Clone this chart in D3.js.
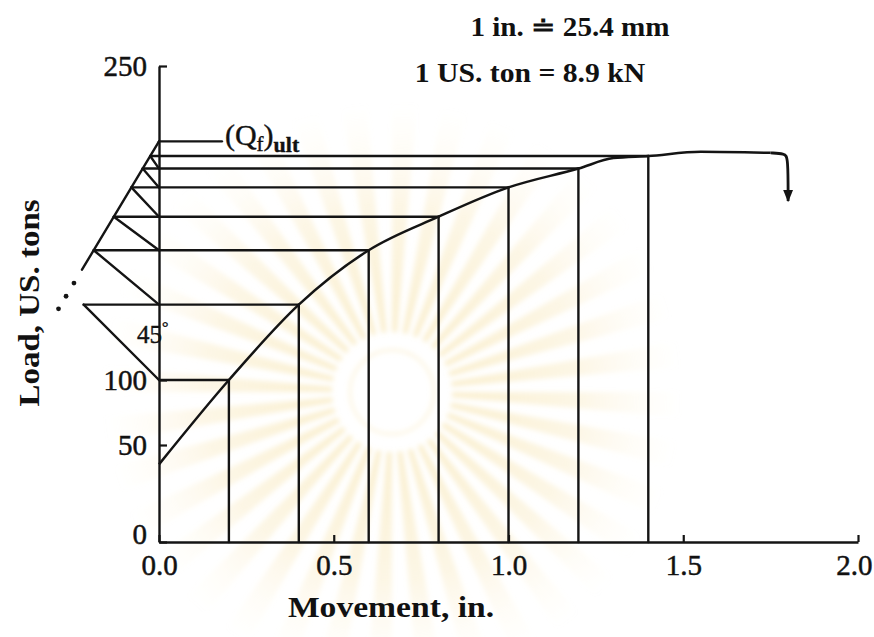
<!DOCTYPE html>
<html>
<head>
<meta charset="utf-8">
<script src="https://cdn.jsdelivr.net/npm/d3@7"></script>
<style>
  html, body { margin: 0; padding: 0; background: #fff; }
  svg { display: block; }
  text { font-family: "Liberation Serif", "Times New Roman", serif; fill: #111; }
</style>
</head>
<body>
<svg id="chart" width="874" height="637"></svg>
<script>
// Pile load test: load vs. movement, with the Mazurkiewicz construction
// used to extrapolate the ultimate load (Qf)ult.

// Load–movement curve (movement in in., load in US tons)
const movement = [0, 0.2, 0.4, 0.6, 0.8, 1.0, 1.2, 1.3, 1.4, 1.55, 1.75];
const load     = [40, 100, 136, 162, 178, 192, 201, 206, 207, 209, 208.5];

// Plunging tail at the end of the test
const tailMovement = [1.75, 1.79, 1.8, 1.8];
const tailLoad     = [208.5, 208.1, 206.5, 185.5];

// Equal movement increment used for the construction
const stepSize = 0.2;
const lastStep = 1.4;

// Extrapolated ultimate load and the straight line through the intersections
const qfUlt = 214;
const ultLineMovement = [0, -0.2203];
const ultLineLoad     = [214, 152.7];
const ultDotsLoad     = [146.3, 140, 134];

// Axis ticks
const xTicks = [0, 0.5, 1.0, 1.5, 2.0];
const xTickLabels = ["0.0", "0.5", "1.0", "1.5", "2.0"];
const yTicks = [0, 50, 100, 250];

const notes = ["1 in. \u2250 25.4 mm", "1 US. ton = 8.9 kN"];

// ---------------------------------------------------------------
const svg = d3.select("#chart");
const serif = "'Liberation Serif', 'Times New Roman', serif";
const plotLeft = 159, plotRight = 858, plotBottom = 542;

const x = d3.scaleLinear().domain([0, 2]).range([plotLeft, plotRight]);
// the printed load axis is not evenly spaced; keep its tick positions
const y = d3.scaleLinear().domain([0, 50, 100, 250]).range([plotBottom, 445, 380, 66]);

const ink = "#141414";
const lw = 2.4;

// faint sunburst emblem in the background
const defs = svg.append("defs");
const grad = defs.append("radialGradient")
  .attr("id", "sun").attr("gradientUnits", "userSpaceOnUse")
  .attr("cx", 0).attr("cy", 0).attr("r", 290);
grad.append("stop").attr("offset", "0.2").attr("stop-color", "#f4d98c").attr("stop-opacity", 0.42);
grad.append("stop").attr("offset", "0.65").attr("stop-color", "#f6e1a4").attr("stop-opacity", 0.28);
grad.append("stop").attr("offset", "1").attr("stop-color", "#fbf0d2").attr("stop-opacity", 0);

defs.append("filter").attr("id", "soft")
  .append("feGaussianBlur").attr("stdDeviation", 2.5);

const emblem = svg.append("g")
  .attr("transform", "translate(392,392)")
  .attr("filter", "url(#soft)");
const nRays = 36;
const rayArc = d3.arc().innerRadius(60).outerRadius(290);
emblem.selectAll("path.ray")
  .data(d3.range(nRays))
  .join("path")
  .attr("class", "ray")
  .attr("d", i => rayArc({
    startAngle: i * 2 * Math.PI / nRays,
    endAngle: i * 2 * Math.PI / nRays + 2 * Math.PI / nRays * 0.5
  }))
  .attr("fill", "url(#sun)");
emblem.append("circle").attr("r", 42).attr("fill", "none")
  .attr("stroke", "#f6e3ad").attr("stroke-width", 3).attr("opacity", 0.35);

// arrowhead for the plunging tail
defs.append("marker")
  .attr("id", "arrow").attr("viewBox", "0 0 10 10")
  .attr("refX", 9).attr("refY", 5)
  .attr("markerWidth", 4.5).attr("markerHeight", 4.5)
  .attr("orient", "auto")
  .append("path").attr("d", "M0,1 L10,5 L0,9 Z").attr("fill", ink);

// ---------------------------------------------------------------
// Axes
const xAxis = d3.axisBottom(x)
  .tickValues(xTicks)
  .tickFormat((d, i) => xTickLabels[i])
  .tickSizeInner(-7).tickSizeOuter(0).tickPadding(12);

const yAxis = d3.axisLeft(y)
  .tickValues(yTicks)
  .tickFormat(d3.format("d"))
  .tickSizeInner(-8).tickSizeOuter(0).tickPadding(12);

const gx = svg.append("g").attr("transform", `translate(0,${plotBottom})`).call(xAxis);
const gy = svg.append("g").attr("transform", `translate(${plotLeft},0)`).call(yAxis);

[gx, gy].forEach(g => {
  g.select(".domain").attr("stroke", ink).attr("stroke-width", lw);
  g.selectAll(".tick line").attr("stroke", ink).attr("stroke-width", 2.2);
  g.selectAll(".tick text")
    .attr("fill", ink)
    .attr("stroke", ink).attr("stroke-width", 0.5)
    .style("font-family", serif)
    .style("font-size", "29px");
});
// the last x label sits inside the frame; the zero load label sits above the axis
gx.selectAll(".tick text").filter(d => d === 2).attr("text-anchor", "end").attr("dx", 14);
gy.selectAll(".tick text").filter(d => d === 0).attr("dy", "0.05em");

// ---------------------------------------------------------------
// Construction
const pts = movement.map((m, i) => ({ m, q: load[i] }));
const steps = pts.filter(d => d.m > 0 && d.m <= lastStep + 1e-9 &&
  Math.abs(d.m / stepSize - Math.round(d.m / stepSize)) < 1e-6);

// movement on the fitted straight line at a given load
const ultSlope = (ultLineMovement[1] - ultLineMovement[0]) / (ultLineLoad[1] - ultLineLoad[0]);
const mOnUlt = q => ultLineMovement[0] + (q - ultLineLoad[0]) * ultSlope;

// left end of each load projection: the first one starts at the axis,
// the second is reached by a true 45° line, later ones meet the fitted line
const leftEnd = steps.map((d, i) => {
  if (i === 0) return x(0);
  if (i === 1) return x(0) - (y(steps[0].q) - y(d.q));
  return x(mOnUlt(d.q));
});

const cons = svg.append("g")
  .attr("stroke", ink).attr("stroke-width", lw)
  .attr("fill", "none").attr("stroke-linecap", "round");

// horizontal projections to the load axis
cons.selectAll("line.h")
  .data(steps)
  .join("line").attr("class", "h")
  .attr("x1", (d, i) => leftEnd[i]).attr("x2", d => x(d.m))
  .attr("y1", d => y(d.q)).attr("y2", d => y(d.q));

// verticals at each movement increment
cons.selectAll("line.v")
  .data(steps)
  .join("line").attr("class", "v")
  .attr("x1", d => x(d.m)).attr("x2", d => x(d.m))
  .attr("y1", d => y(d.q)).attr("y2", y(0));

// 45° lines from each load on the axis to the next projection
cons.selectAll("line.d")
  .data(steps.slice(1))
  .join("line").attr("class", "d")
  .attr("x1", x(0)).attr("y1", (d, i) => y(steps[i].q))
  .attr("x2", (d, i) => leftEnd[i + 1]).attr("y2", d => y(d.q));

// straight line through the intersections, extended to the load axis
cons.append("line")
  .attr("x1", x(ultLineMovement[0])).attr("y1", y(ultLineLoad[0]))
  .attr("x2", x(ultLineMovement[1])).attr("y2", y(ultLineLoad[1]));

svg.append("g").selectAll("circle")
  .data(ultDotsLoad)
  .join("circle")
  .attr("cx", q => x(mOnUlt(q))).attr("cy", q => y(q))
  .attr("r", 2.4).attr("fill", ink);

// (Qf)ult marker
const qfLabelAt = 0.18;
cons.append("line")
  .attr("x1", x(0)).attr("x2", x(qfLabelAt))
  .attr("y1", y(qfUlt)).attr("y2", y(qfUlt));

const qfText = svg.append("text")
  .attr("x", x(qfLabelAt) + 3).attr("y", y(qfUlt) + 4)
  .attr("stroke", ink).attr("stroke-width", 0.4)
  .style("font-family", serif)
  .style("font-size", "30px");
qfText.append("tspan").text("(Q");
qfText.append("tspan").text("f").style("font-size", "21px").attr("dy", 6);
qfText.append("tspan").text(")").attr("dy", -6);
qfText.append("tspan").text("ult").style("font-size", "22px").style("font-weight", "bold").attr("dy", 7);

// 45° annotation
const degText = svg.append("text")
  .attr("x", 137).attr("y", 343)
  .attr("stroke", ink).attr("stroke-width", 0.4)
  .style("font-family", serif)
  .style("font-size", "25px");
degText.append("tspan").text("45");
degText.append("tspan").text("°").style("font-size", "16px").attr("dy", -10);

// ---------------------------------------------------------------
// Load–movement curve
const line = d3.line().x(d => x(d.m)).y(d => y(d.q)).curve(d3.curveMonotoneX);
svg.append("path")
  .datum(pts)
  .attr("d", line)
  .attr("fill", "none").attr("stroke", ink).attr("stroke-width", 2.5)
  .attr("stroke-linejoin", "round");

const tail = tailMovement.map((m, i) => ({ m, q: tailLoad[i] }));
svg.append("path")
  .datum(tail)
  .attr("d", d3.line().x(d => x(d.m)).y(d => y(d.q)).curve(d3.curveBasis))
  .attr("fill", "none").attr("stroke", ink).attr("stroke-width", 2.8)
  .attr("marker-end", "url(#arrow)");

// ---------------------------------------------------------------
// Titles and unit notes
svg.append("text")
  .attr("transform", "translate(391,617) scale(1.12,1)")
  .attr("text-anchor", "middle")
  .style("font-family", serif)
  .style("font-size", "30px").style("font-weight", "bold")
  .text("Movement, in.");

svg.append("text")
  .attr("transform", "translate(39,303) rotate(-90) scale(1.1,1)")
  .attr("text-anchor", "middle")
  .style("font-family", serif)
  .style("font-size", "30px").style("font-weight", "bold")
  .text("Load, US. tons");

svg.selectAll("text.note")
  .data(notes)
  .join("text").attr("class", "note")
  .attr("transform", (d, i) => i === 0 ? "translate(570,36) scale(1.04,1)" : "translate(530,82) scale(1.06,1)")
  .attr("text-anchor", "middle")
  .style("font-family", serif)
  .style("font-size", "28px").style("font-weight", "bold")
  .text(d => d);
</script>
</body>
</html>
